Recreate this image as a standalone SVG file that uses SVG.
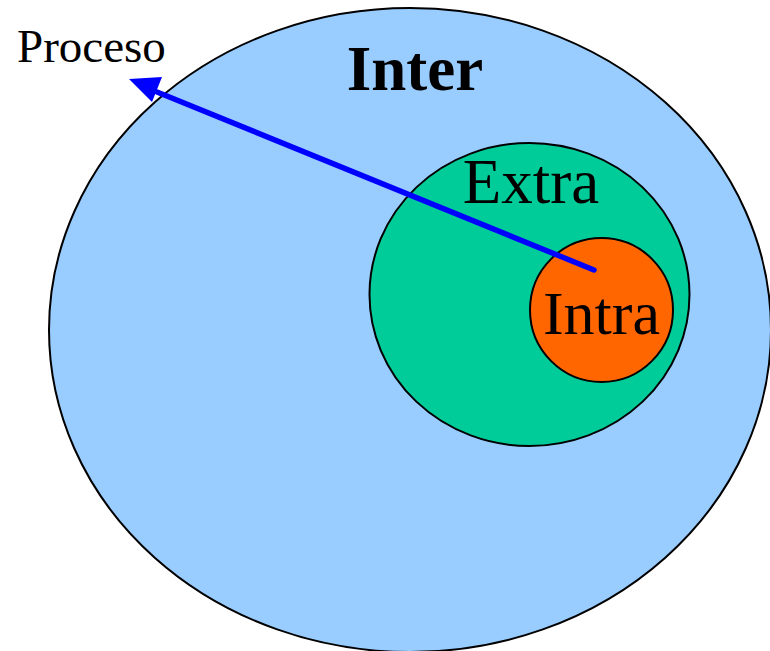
<svg xmlns="http://www.w3.org/2000/svg" width="770" height="651" viewBox="0 0 770 651">
<style>
.s{stroke:#000;stroke-width:2}
.t{font-family:"Liberation Serif","Times New Roman",serif;fill:#000}
</style>
<rect width="770" height="651" fill="#fff"/>
<g id="inter">
<ellipse class="s" cx="410" cy="330" rx="361" ry="322" fill="#99CCFF"/>
<text class="t" x="415" y="90" font-size="63" font-weight="bold" text-anchor="middle">Inter</text>
</g>
<g id="extra">
<ellipse class="s" cx="529.5" cy="294.5" rx="160" ry="151.5" fill="#00CC99"/>
<text class="t" x="531" y="203" font-size="63" text-anchor="middle">Extra</text>
</g>
<g id="intra">
<ellipse class="s" cx="601.5" cy="310" rx="71.5" ry="72" fill="#FF6600"/>
<text class="t" x="601.5" y="334" font-size="62" text-anchor="middle">Intra</text>
</g>
<g id="proceso">
<text class="t" x="17" y="62" font-size="47">Proceso</text>
</g>
<g id="connectors">
<line x1="594" y1="270" x2="157" y2="92" stroke="#0000FF" stroke-width="5.5" stroke-linecap="round"/>
<path d="M129,79 L162,77 L152,102 Z" fill="#0000FF"/>
</g>
</svg>
